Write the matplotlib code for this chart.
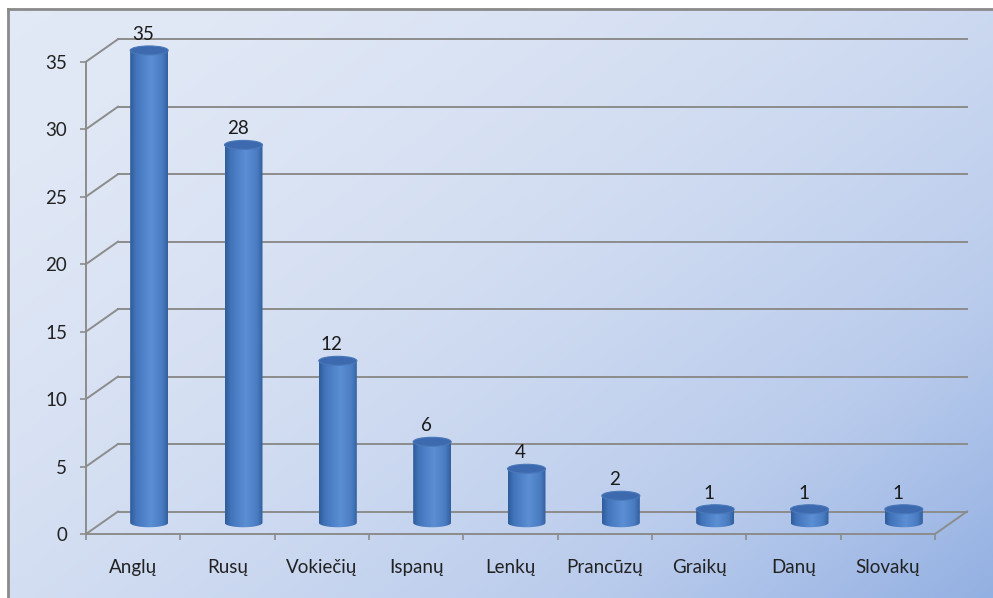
import numpy as np
import matplotlib
matplotlib.use("Agg")
import matplotlib.pyplot as plt
from matplotlib.patches import Ellipse, PathPatch
from matplotlib.path import Path
from matplotlib.colors import LinearSegmentedColormap

plt.rcParams['font.family'] = ['Lato', 'DejaVu Sans']

# data
languages = ["Anglų", "Rusų", "Vokiečių", "Ispanų", "Lenkų",
             "Prancūzų", "Graikų", "Danų", "Slovakų"]
counts = [35, 28, 12, 6, 4, 2, 1, 1, 1]
y_ticks = [0, 5, 10, 15, 20, 25, 30, 35]

W, H = 993, 598
fig = plt.figure(figsize=(W / 100, H / 100), dpi=100)
fig.patch.set_facecolor("white")

# background gradient panel with grey frame
bg = fig.add_axes([8 / W, 0, 1 - 8 / W, (H - 9) / H])
bg.set_axis_off()
gx, gy = np.meshgrid(np.linspace(0, 1, 300), np.linspace(0, 1, 200))
diag = (gx * 0.75 + gy * 0.6) / 1.35
diag = diag ** 1.6
bg_cmap = LinearSegmentedColormap.from_list(
    "bgc", ["#e2e9f6", "#cfdbf1", "#b9cbec", "#93b0e2"])
bg.imshow(diag, cmap=bg_cmap, aspect="auto", extent=[0, 1, 0, 1],
          origin="upper", interpolation="bicubic")
bg.set_xlim(0, 1)
bg.set_ylim(0, 1)
fig.add_artist(plt.Line2D([8 / W, 8 / W], [0, (H - 9) / H], color="#8a8a8a",
                          lw=2, transform=fig.transFigure))
fig.add_artist(plt.Line2D([8 / W, 1], [(H - 9) / H, (H - 9) / H], color="#8a8a8a",
                          lw=2, transform=fig.transFigure))

# front plane of the 3D chart
ax = fig.add_axes([86 / W, (H - 534) / H, 849 / W, 472.3 / H])
ax.patch.set_alpha(0)
n = len(languages)
ax.set_xlim(-0.5, n - 0.5)
ax.set_ylim(0, 35)

px_x = 849 / n          # pixels per category
px_y = 472.3 / 35       # pixels per unit
DX = 32 / px_x          # depth offset in data units
DY = 22.5 / px_y
grid_c = "#8c8c8c"

# back wall grid lines and side wall diagonals
for t in y_ticks:
    ax.plot([-0.5 + DX, n - 0.5 + DX], [t + DY, t + DY], color=grid_c,
            lw=1.4, clip_on=False, zorder=1)
    ax.plot([-0.5, -0.5 + DX], [t, t + DY], color=grid_c, lw=1.4,
            clip_on=False, zorder=1)
# floor right edge
ax.plot([n - 0.5, n - 0.5 + DX], [0, DY], color=grid_c, lw=1.4,
        clip_on=False, zorder=1)

for s in ["top", "right"]:
    ax.spines[s].set_visible(False)
for s in ["left", "bottom"]:
    ax.spines[s].set_color(grid_c)
    ax.spines[s].set_linewidth(1.4)

ax.set_yticks(y_ticks)
ax.set_yticklabels([str(t) for t in y_ticks])
ax.set_xticks(np.arange(-0.5, n, 1.0))
ax.set_xticklabels([])
ax.set_xticks(np.arange(n), minor=True)
ax.set_xticklabels(languages, minor=True)
ax.tick_params(axis="y", length=4.5, width=1.2, color=grid_c, pad=9,
               labelsize=13.5, labelcolor="#222222")
ax.tick_params(axis="x", which="major", length=4.5, width=1.2, color=grid_c)
ax.tick_params(axis="x", which="minor", length=0, pad=18, labelsize=13.5,
               labelcolor="#222222")

# cylinders
cyl_cmap = LinearSegmentedColormap.from_list(
    "cyl", [(0, "#2f5c9a"), (0.15, "#4274bb"), (0.55, "#5b8fd4"),
            (0.85, "#4a7cc2"), (1, "#33609f")])
cw = 38 / px_x
eh = 9 / px_y
grad = np.linspace(0, 1, 100).reshape(1, -1)
for i, v in enumerate(counts):
    cx = i + DX / 2
    cy0 = DY / 2
    cy1 = v + DY / 2
    th = np.linspace(np.pi, 2 * np.pi, 40)
    bx = cx + cw / 2 * np.cos(th)
    by = cy0 + eh / 2 * np.sin(th)
    verts = list(zip(bx, by)) + [(cx + cw / 2, cy1), (cx - cw / 2, cy1), (bx[0], by[0])]
    codes = [Path.MOVETO] + [Path.LINETO] * (len(verts) - 2) + [Path.CLOSEPOLY]
    body = PathPatch(Path(verts, codes), facecolor="none", edgecolor="none",
                     transform=ax.transData, clip_on=False)
    ax.add_patch(body)
    im = ax.imshow(grad, cmap=cyl_cmap, aspect="auto",
                   extent=[cx - cw / 2, cx + cw / 2, cy0 - eh, cy1],
                   zorder=3, interpolation="bilinear")
    im.set_clip_box(fig.bbox)
    im.set_clip_path(body)
    top = Ellipse((cx, cy1), cw, eh, facecolor="#3d6aae",
                  edgecolor="#4a78ba", lw=0.8, zorder=4, clip_on=False)
    ax.add_patch(top)
    ax.text(cx - 6 / px_x, cy1 + 16 / px_y, str(v), ha="center", va="center",
            fontsize=13.5, color="#1a1a1a", zorder=5, clip_on=False)

ax.set_xlim(-0.5, n - 0.5)
ax.set_ylim(0, 35)

fig.savefig("out.png", dpi=100)
